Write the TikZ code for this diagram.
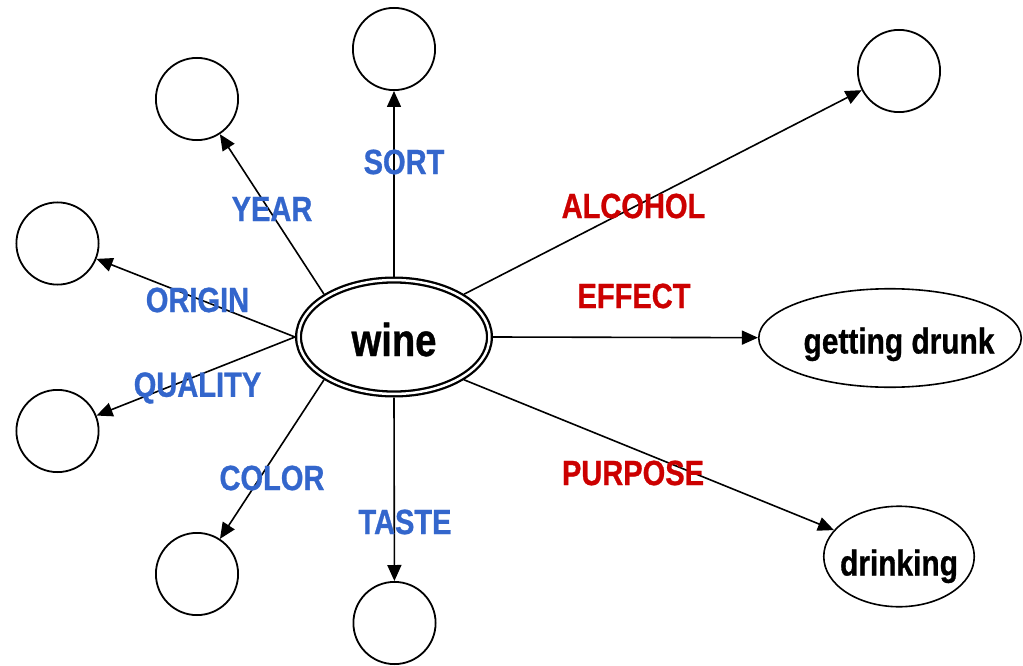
\documentclass[tikz,border=0pt]{standalone}
\usepackage{fontspec}
\setmainfont{Liberation Sans}
\newfontfamily\nb{Liberation Sans}[FakeStretch=0.83,FakeBold=0.8]
\usetikzlibrary{arrows.meta,shapes.geometric}
\definecolor{lblue}{RGB}{51,102,204}
\definecolor{lred}{RGB}{204,0,0}
\newcommand{\placetext}[3]{\raisebox{#1}[0pt][0pt]{\makebox[0pt]{\hspace{#2}#3}}}
\tikzset{
  empty/.style={circle,draw,line width=1.8pt,minimum size=82.2pt,inner sep=0pt},
  oval/.style={ellipse,draw,line width=1.6pt,inner sep=0pt,font=\nb\bfseries\fontsize{36}{40}\selectfont},
  central/.style={ellipse,draw,double=white,double distance=2.5pt,line width=2.3pt,
     minimum width=190.9pt,minimum height=113.9pt,inner sep=0pt,outer sep=3.55pt,
     font=\nb\bfseries\fontsize{46}{50}\selectfont},
  conn/.style={line width=1.6pt,-{Triangle[length=16pt,width=14pt]}},
  bl/.style={text=lblue,font=\nb\bfseries\fontsize{35}{40}\selectfont,inner sep=0pt},
  rd/.style={text=lred,font=\nb\bfseries\fontsize{35}{40}\selectfont,inner sep=0pt}
}
\begin{document}
\begin{tikzpicture}[x=1pt,y=-1pt]
\useasboundingbox (0,0) rectangle (1023,666);
\node[central] (wine) at (394,337) {\placetext{-19pt}{0pt}{wine}};
\node[empty] (csort) at (394,49) {};
\node[empty] (cyear) at (197,99) {};
\node[empty] (corigin) at (57.5,243.5) {};
\node[empty] (cquality) at (57.5,431) {};
\node[empty] (ccolor) at (197,574) {};
\node[empty] (ctaste) at (394.5,623) {};
\node[empty] (calc) at (899,71) {};
\node[oval,minimum width=262.5pt,minimum height=98.5pt] (drunk) at (890,338) {\placetext{-15.5pt}{18pt}{getting drunk}};
\node[oval,minimum width=150.5pt,minimum height=100.5pt] (drinking) at (899,556.5) {\placetext{-19pt}{0pt}{drinking}};
\draw[conn] (wine.north) -- (csort);
\draw[conn] (wine.north west) -- (cyear);
\draw[conn] (wine.west) -- (corigin);
\draw[conn] (wine.west) -- (cquality);
\draw[conn] (wine.south west) -- (ccolor);
\draw[conn] (wine.south) -- (ctaste);
\draw[conn] (wine.north east) -- (calc);
\draw[conn] (wine.east) -- (drunk);
\draw[conn] (wine.south east) -- (drinking);
\node[bl] (lsort) at (404,162) {SORT};
\node[bl] (lyear) at (272,209) {YEAR};
\node[bl] (lorigin) at (197.5,300) {ORIGIN};
\node[bl] (lquality) at (197.5,388) {QUALITY};
\node[bl] (lcolor) at (272,478) {COLOR};
\node[bl] (ltaste) at (405,522) {TASTE};
\node[rd] (lalc) at (633.5,206) {ALCOHOL};
\node[rd] (leffect) at (634,296) {EFFECT};
\node[rd] (lpurpose) at (633,473) {PURPOSE};
\end{tikzpicture}
\end{document}
